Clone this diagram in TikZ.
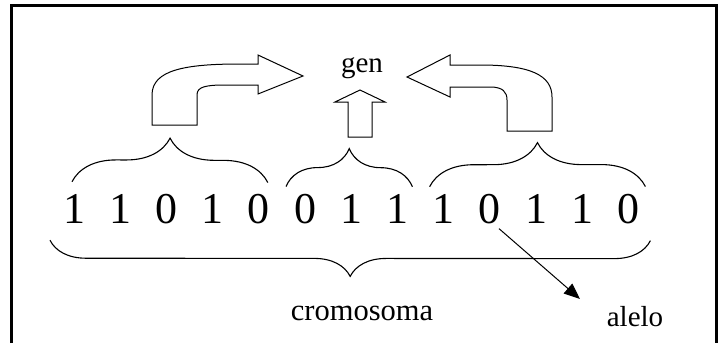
\documentclass[tikz,border=0pt]{standalone}
\usepackage{fontspec}
\setmainfont{Liberation Serif}
\usetikzlibrary{decorations.pathreplacing,arrows.meta}
\tikzset{
  llave/.style={decorate, decoration={brace, amplitude=#1}, line width=1.1pt},
  digito/.style={font=\fontsize{44}{44}\selectfont, inner sep=0pt, anchor=base},
  texto/.style={font=\fontsize{29}{29}\selectfont, inner sep=0pt, anchor=base},
  flechota/.style={draw, line width=1pt, line join=miter}
}
\begin{document}
\begin{tikzpicture}[x=1pt, y=-1pt]
  \useasboundingbox (0,0) rectangle (718,343);
  \draw[line width=2.7pt] (11.3,343) -- (11.3,5.3) -- (716.5,5.3) -- (716.5,343);
  \foreach \b [count=\i] in {1,1,0,1,0,0,1,1,1,0,1,1,0}
    \node[digito] (d\i) at ({74+46.2*(\i-1)},223) {\b};
  \draw[llave=44] ([xshift=-2pt,yshift=12pt]d1.north) -- ([xshift=9pt,yshift=11pt]d5.north);
  \draw[llave=38] ([xshift=-19pt,yshift=7pt]d6.north) -- ([xshift=15pt,yshift=7pt]d8.north);
  \draw[llave=44] ([xshift=-14pt,yshift=7pt]d9.north) -- ([xshift=17pt,yshift=7pt]d13.north);
  \draw[llave=36, decoration={mirror}] ([xshift=-24pt,yshift=-17pt]d1.south) -- ([xshift=22pt,yshift=-17pt]d13.south);
  \draw[flechota] (152,125) -- (152,95) .. controls (152,70) and (185,64) .. (240,64) -- (258,64) -- (258,55) -- (303,76) -- (258,94) -- (258,85) -- (225,85) .. controls (205,85) and (197,87) .. (197,95) -- (197,125) -- cycle;
  \draw[flechota] (348,137) -- (348,102) -- (335,102) -- (360,90) -- (385,102) -- (372,102) -- (372,137) -- cycle;
  \draw[flechota] (552,131) -- (552,97) .. controls (552,75) and (530,65) .. (480,65) -- (450,65) -- (450,55) -- (407,77) -- (450,97) -- (450,87) -- (490,87) .. controls (503,87) and (507,92) .. (507,100) -- (507,131) -- cycle;
  \node[texto] (gen) at (362,72) {gen};
  \node[texto, font=\fontsize{30.5}{30.5}\selectfont] (cromosoma) at (362,320) {cromosoma};
  \node[texto] (alelo) at (635,326) {alelo};
  \coordinate (punta) at (580,299);
  \draw[line width=1pt, -{Triangle[length=16pt,width=13pt]}] ([xshift=-2pt,yshift=-5pt]d10.south east) -- (punta);
\end{tikzpicture}
\end{document}
